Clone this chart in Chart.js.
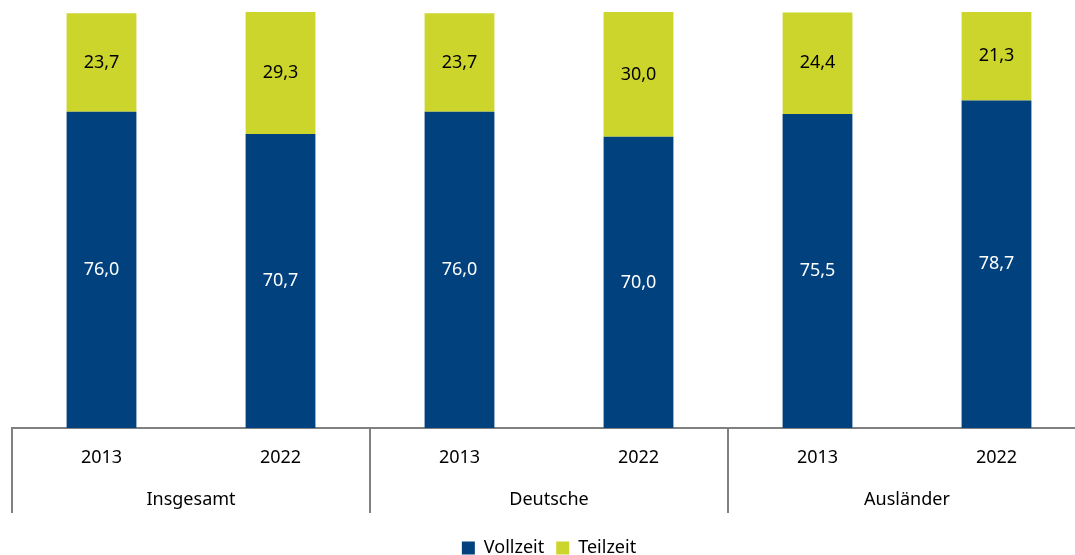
<!DOCTYPE html>
<html lang="de">
<head>
<meta charset="utf-8">
<script src="https://cdn.jsdelivr.net/npm/chart.js@4"></script>
<style>
    html, body { margin: 0; padding: 0; background: #fff; overflow: hidden; }
    #wrap { position: relative; width: 1090px; height: 567px; }
</style>
</head>
<body>
<div id="wrap"><canvas id="chart"></canvas></div>
<script>
// ===== DATA =====
const years = ['2013', '2022', '2013', '2022', '2013', '2022'];
const groups = ['Insgesamt', 'Deutsche', 'Ausländer'];
const vollzeit = [76.0, 70.7, 76.0, 70.0, 75.5, 78.7];
const teilzeit = [23.7, 29.3, 23.7, 30.0, 24.4, 21.3];

const BLUE = '#00417e';
const YELLOW = '#ccd52b';
const AXIS = '#808080';
const FONT = '"Noto Sans", sans-serif';

// value labels in the middle of each segment
const segmentLabels = {
    id: 'segmentLabels',
    afterDatasetsDraw(chart) {
        const ctx = chart.ctx;
        ctx.save();
        ctx.font = '18px ' + FONT;
        ctx.textAlign = 'center';
        ctx.textBaseline = 'middle';
        chart.data.datasets.forEach((ds, di) => {
            const meta = chart.getDatasetMeta(di);
            meta.data.forEach((bar, i) => {
                const y = (bar.y + bar.base) / 2;
                ctx.fillStyle = di === 0 ? '#ffffff' : '#000000';
                ctx.fillText(ds.data[i].toFixed(1).replace('.', ','), bar.x, y);
            });
        });
        ctx.restore();
    }
};

// vertical separators between the groups below the axis
const groupSeparators = {
    id: 'groupSeparators',
    afterDraw(chart) {
        const ctx = chart.ctx;
        const x = chart.scales.x;
        const area = chart.chartArea;
        const xs = [area.left];
        for (let i = 1; i + 1 < years.length; i += 2) {
            xs.push((x.getPixelForValue(i) + x.getPixelForValue(i + 1)) / 2);
        }
        xs.push(area.right);
        ctx.save();
        ctx.strokeStyle = AXIS;
        ctx.lineWidth = 2;
        xs.forEach(px => {
            ctx.beginPath();
            ctx.moveTo(Math.round(px), area.bottom);
            ctx.lineTo(Math.round(px), area.bottom + 85);
            ctx.stroke();
        });
        ctx.restore();
    }
};

new Chart(document.getElementById('chart'), {
    type: 'bar',
    data: {
        labels: years,
        datasets: [{
            label: 'Vollzeit',
            data: vollzeit,
            backgroundColor: BLUE,
            barPercentage: 0.39,
            categoryPercentage: 1
        }, {
            label: 'Teilzeit',
            data: teilzeit,
            backgroundColor: YELLOW,
            barPercentage: 0.39,
            categoryPercentage: 1
        }]
    },
    options: {
        responsive: true,
        maintainAspectRatio: false,
        animation: false,
        layout: {
            padding: { left: 12, right: 4, top: 12, bottom: 0 }
        },
        plugins: {
            legend: {
                position: 'bottom',
                labels: {
                    boxWidth: 13,
                    boxHeight: 13,
                    padding: 12,
                    color: '#000',
                    font: { family: FONT, size: 18 }
                }
            },
            tooltip: { enabled: false }
        },
        scales: {
            x: {
                stacked: true,
                grid: { display: false, drawTicks: false },
                border: { display: true, color: AXIS, width: 2 },
                ticks: {
                    color: '#000',
                    padding: 19,
                    maxRotation: 0,
                    font: { family: FONT, size: 18 }
                },
                afterFit(scale) { scale.height = 42; }
            },
            x2: {
                type: 'category',
                labels: groups,
                position: 'bottom',
                offset: true,
                grid: { display: false, drawTicks: false },
                border: { display: false },
                ticks: {
                    color: '#000',
                    padding: 19,
                    maxRotation: 0,
                    font: { family: FONT, size: 18 }
                },
                afterFit(scale) { scale.height = 57; }
            },
            y: {
                stacked: true,
                display: false,
                min: 0,
                max: 100
            }
        }
    },
    plugins: [segmentLabels, groupSeparators]
});
</script>
</body>
</html>
